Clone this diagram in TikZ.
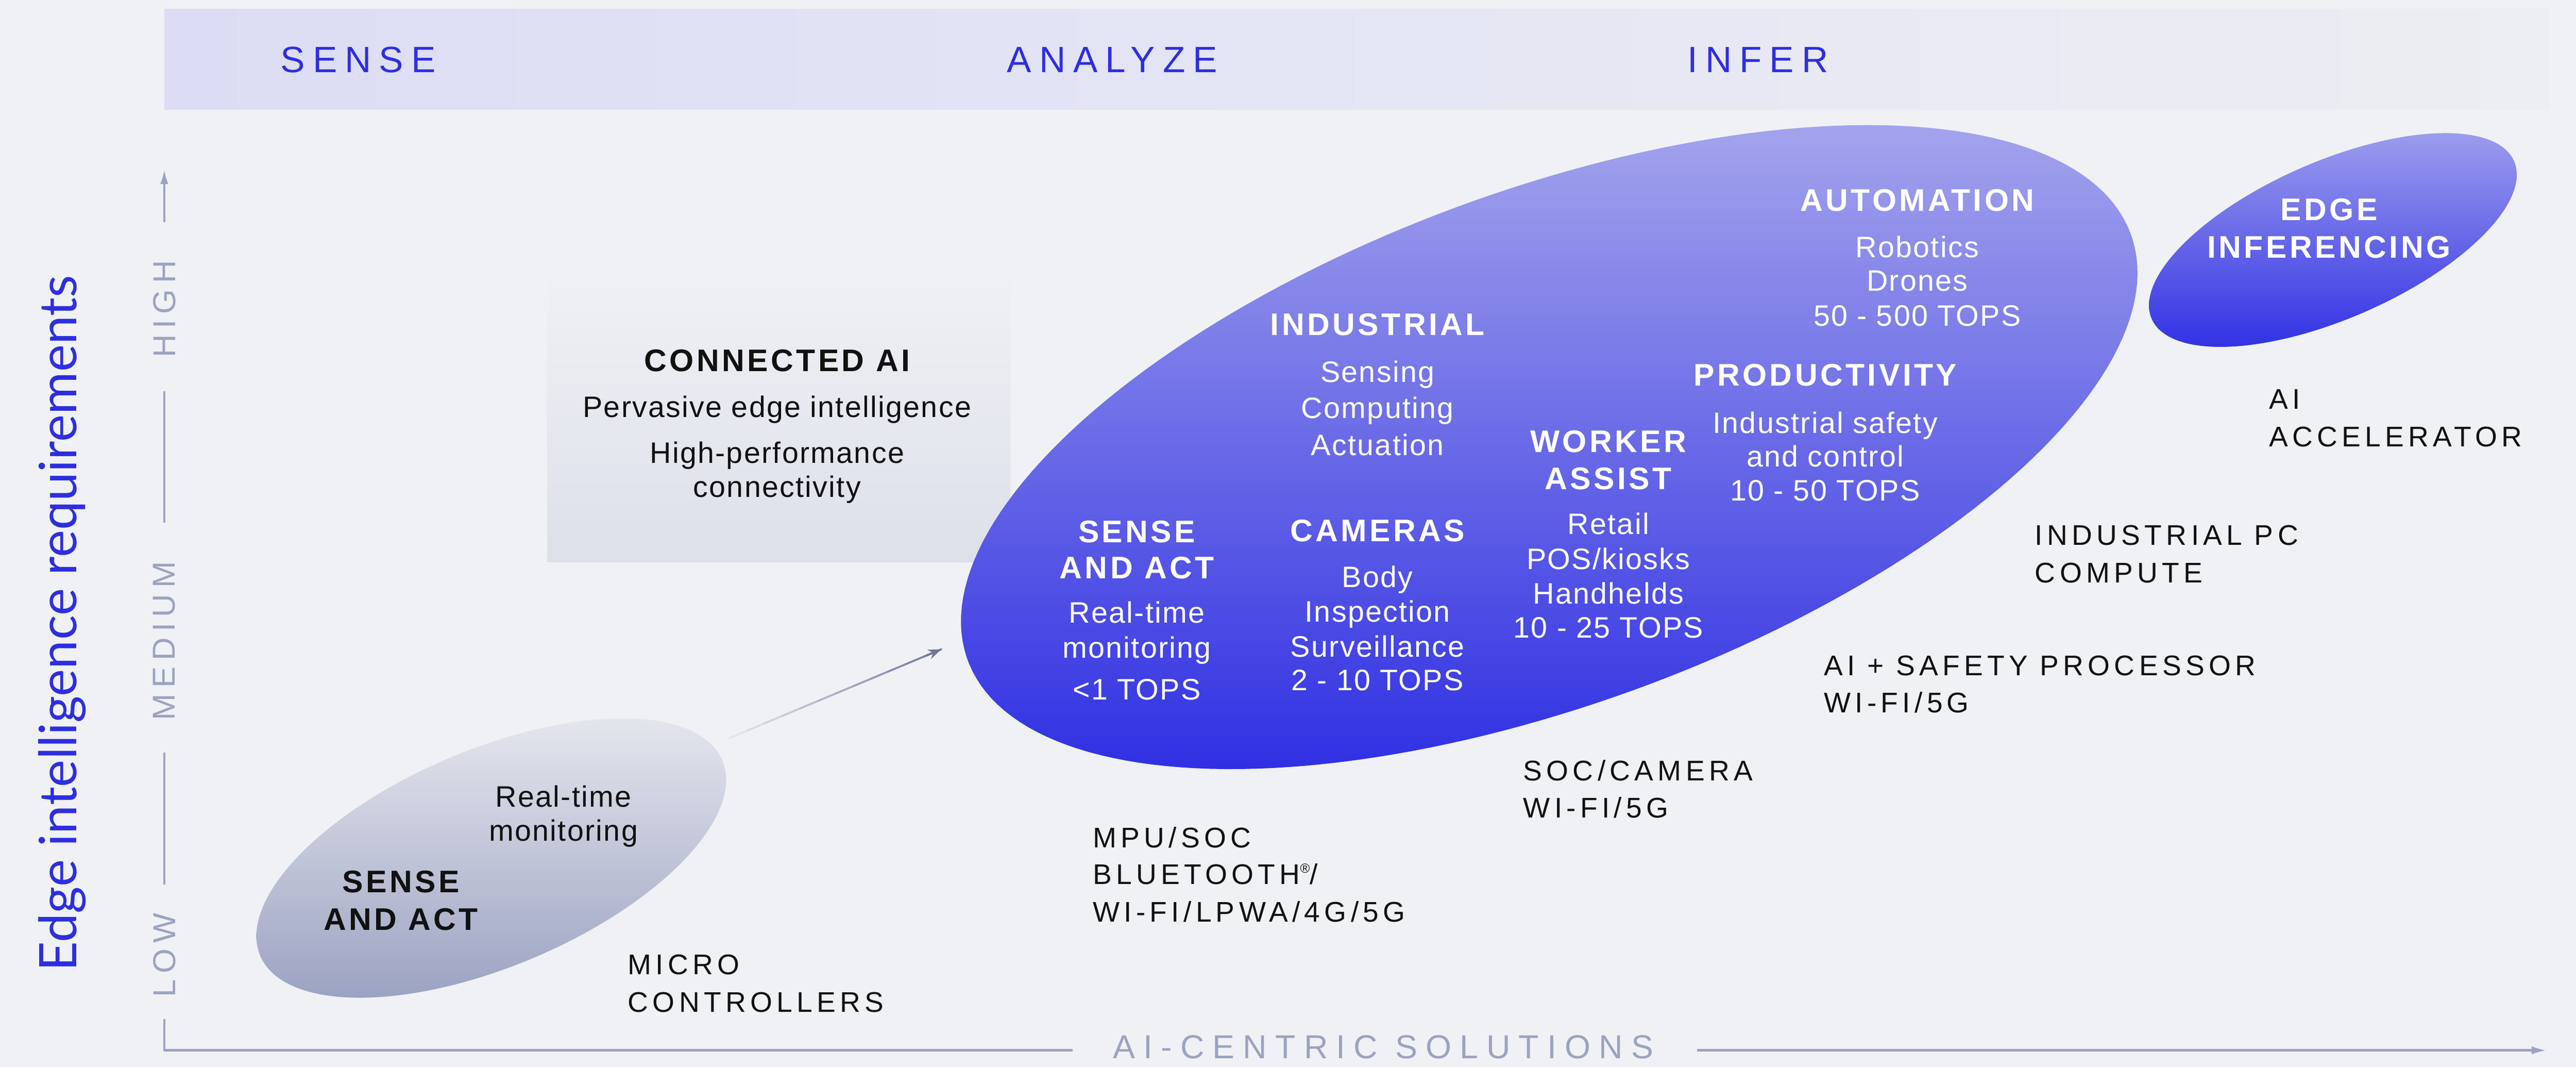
\documentclass[tikz,border=0pt]{standalone}
\usepackage{fontspec}
\setmainfont{Liberation Sans}
\newfontfamily\bodyf{Liberation Sans}[LetterSpace=4]
\newfontfamily\capf{Liberation Sans}[LetterSpace=15]
\newfontfamily\boldf{Liberation Sans}[LetterSpace=9]
\newfontfamily\hdrf{Liberation Sans}[LetterSpace=21]
\newfontfamily\axf{Liberation Sans}[LetterSpace=19]
\newfontfamily\xaxf{Liberation Sans}[LetterSpace=25]
\newfontfamily\edgef{Lato}
\usetikzlibrary{arrows.meta,calc}
\definecolor{bg}{HTML}{F0F1F5}
\definecolor{hdrL}{HTML}{DCDDF4}
\definecolor{hdrR}{HTML}{EDEEF3}
\definecolor{hblue}{HTML}{2E2EE0}
\definecolor{axisc}{HTML}{9BA3BF}
\definecolor{boxB}{HTML}{DCE0E9}
\definecolor{greyT}{HTML}{E4E6ED}
\definecolor{greyB}{HTML}{9CA3C2}
\definecolor{bigT}{HTML}{A3A3EC}
\definecolor{bigM}{HTML}{6262EB}
\definecolor{bigB}{HTML}{3030E3}
\definecolor{edgeT}{HTML}{9C9CEE}
\definecolor{edgeB}{HTML}{3232E4}
\definecolor{arrL}{HTML}{E8EAF0}
\definecolor{arrD}{HTML}{6E7898}
\definecolor{ink}{HTML}{111111}
\tikzset{
  body/.style={font=\bodyf\fontsize{18}{22}\selectfont, inner sep=0pt, anchor=base},
  boldl/.style={font=\boldf\bfseries\fontsize{19}{22}\selectfont, inner sep=0pt, anchor=base},
  capsl/.style={font=\capf\fontsize{17.3}{22}\selectfont, inner sep=0pt, text=ink, anchor=base west},
  hdr/.style={font=\hdrf\fontsize{22.3}{26}\selectfont, text=hblue, inner sep=0pt, anchor=base},
  axl/.style={font=\axf\fontsize{19.3}{22}\selectfont, text=axisc, inner sep=0pt, rotate=90},
  axisline/.style={draw=axisc, line width=1.4pt},
  wt/.style={text=white},
  bk/.style={text=ink}
}
\begin{document}
\begin{tikzpicture}[x=1pt,y=-1pt]
\fill[bg] (0,0) rectangle (1568,649);
\useasboundingbox (0,0) rectangle (1568,649);

% header band
\shade[left color=hdrL, right color=hdrR] (100,5.6) rectangle (1552,66.5);
\node[hdr] (hSense) at (218,44) {SENSE};
\node[hdr] (hAnalyze) at (677,44) {ANALYZE};
\node[hdr] (hInfer) at (1070,44) {INFER};

% y axis
\node[font=\edgef\fontsize{31.5}{31.5}\selectfont, text=hblue, rotate=90, anchor=base, inner sep=0pt] (ylab) at (46.5,379.3) {Edge intelligence requirements};
\coordinate (yTip) at (100,103);
\coordinate (yA) at (100,135);
\draw[axisline, -{Latex[length=9pt,width=5pt]}] (yA) -- (yTip);
\node[axl] (lHigh) at (100,188) {HIGH};
\draw[axisline] (100,238) -- (100,318);
\node[axl] (lMed) at (100,390) {MEDIUM};
\draw[axisline] (100,458) -- (100,538);
\node[axl] (lLow) at (100,581) {LOW};
\draw[axisline] (100,620) -- (100,639) -- (653,639);
\node[font=\xaxf\fontsize{20.2}{22}\selectfont, text=axisc, inner sep=0pt, anchor=base] (xlab) at (842,644) {AI-CENTRIC SOLUTIONS};
\coordinate (xA) at (1033,639);
\coordinate (xTip) at (1550,639);
\draw[axisline, -{Latex[length=9pt,width=5pt]}] (xA) -- (xTip);

% connected AI box
\shade[top color=bg, bottom color=boxB] (333,163) rectangle (615,342);
\node[boldl, bk] (cai) at (473,226) {CONNECTED AI};
\node[body, bk] (cai1) at (473,254) {Pervasive edge intelligence};
\node[body, bk] (cai2) at (473,281.7) {High-performance};
\node[body, bk] (cai3) at (473,302.5) {connectivity};

% small grey ellipse
\shade[top color=greyT, bottom color=greyB]
  plot[variable=\t, domain=0:360, samples=160]
  ({299+152.7*cos(\t)*cos(22.9)+66*sin(\t)*sin(22.9)},
   {522-152.7*cos(\t)*sin(22.9)+66*sin(\t)*cos(22.9)}) -- cycle;
\node[body, bk] (sm1) at (343,491) {Real-time};
\node[body, bk] (sm2) at (343,511.6) {monitoring};
\node[boldl, bk] (sm3) at (244,543) {SENSE};
\node[boldl, bk] (sm4) at (244,566) {AND ACT};

% big ellipse
\shade[top color=bigT, middle color=bigM, bottom color=bigB]
  plot[variable=\t, domain=0:360, samples=200]
  ({943+377*cos(\t)*cos(20.1)+156.5*sin(\t)*sin(20.1)},
   {272-377*cos(\t)*sin(20.1)+156.5*sin(\t)*cos(20.1)}) -- cycle;

% edge inferencing ellipse
\shade[top color=edgeT, bottom color=edgeB]
  plot[variable=\t, domain=0:360, samples=160]
  ({1420+120.3*cos(\t)*cos(23.5)+47.9*sin(\t)*sin(23.5)},
   {146-120.3*cos(\t)*sin(23.5)+47.9*sin(\t)*cos(23.5)}) -- cycle;

% arrow from small to big ellipse
\coordinate (arrS) at (444,449);
\coordinate (arrE) at (573,395);
\foreach \i in {0,...,11}{
  \pgfmathsetmacro\pa{\i/12}
  \pgfmathsetmacro\pb{(\i+1)/12}
  \pgfmathsetmacro\pc{100*(\i+0.5)/12}
  \draw[line width=1.2pt, line cap=round, draw=arrD!\pc!arrL] ($(arrS)!\pa!(arrE)$) -- ($(arrS)!\pb!(arrE)$);
}
\draw[line width=1.2pt, draw=arrD, -{Stealth[length=8pt,width=6pt,inset=2.5pt]}] ($(arrS)!0.93!(arrE)$) -- (arrE);

% texts in big ellipse
\node[boldl, wt] (b1a) at (692,330) {SENSE};
\node[boldl, wt] (b1b) at (692,352) {AND ACT};
\node[body, wt] (b1c) at (692,379) {Real-time};
\node[body, wt] (b1d) at (692,400.4) {monitoring};
\node[body, wt] (b1e) at (692,425.6) {<1 TOPS};

\node[boldl, wt] (b2a) at (838.5,204) {INDUSTRIAL};
\node[body, wt] (b2b) at (838.5,232.4) {Sensing};
\node[body, wt] (b2c) at (838.5,254.6) {Computing};
\node[body, wt] (b2d) at (838.5,277) {Actuation};

\node[boldl, wt] (b3a) at (838.5,329.3) {CAMERAS};
\node[body, wt] (b3b) at (838.5,357.4) {Body};
\node[body, wt] (b3c) at (838.5,378.5) {Inspection};
\node[body, wt] (b3d) at (838.5,399.6) {Surveillance};
\node[body, wt] (b3e) at (838.5,420) {2 - 10 TOPS};

\node[boldl, wt] (b4a) at (979,275.2) {WORKER};
\node[boldl, wt] (b4b) at (979,297.7) {ASSIST};
\node[body, wt] (b4c) at (979,325) {Retail};
\node[body, wt] (b4d) at (979,346.5) {POS/kiosks};
\node[body, wt] (b4e) at (979,367.5) {Handhelds};
\node[body, wt] (b4f) at (979,388) {10 - 25 TOPS};

\node[boldl, wt] (b5a) at (1111,234.7) {PRODUCTIVITY};
\node[body, wt] (b5b) at (1111,263.5) {Industrial safety};
\node[body, wt] (b5c) at (1111,284) {and control};
\node[body, wt] (b5d) at (1111,304.5) {10 - 50 TOPS};

\node[boldl, wt] (b6a) at (1167,128.3) {AUTOMATION};
\node[body, wt] (b6b) at (1167,156.5) {Robotics};
\node[body, wt] (b6c) at (1167,177) {Drones};
\node[body, wt] (b6d) at (1167,198.5) {50 - 500 TOPS};

\node[boldl, wt] (e1) at (1417.6,134) {EDGE};
\node[boldl, wt] (e2) at (1417.6,157) {INFERENCING};

% hardware labels
\node[capsl] (h1a) at (1381,248.9) {AI};
\node[capsl] (h1b) at (1381,271.7) {ACCELERATOR};
\node[capsl] (h2a) at (1238.5,331.6) {INDUSTRIAL PC};
\node[capsl] (h2b) at (1238.5,354.4) {COMPUTE};
\node[capsl] (h3a) at (1110,411) {AI + SAFETY PROCESSOR};
\node[capsl] (h3b) at (1110,433.6) {WI-FI/5G};
\node[capsl] (h4a) at (927,474.8) {SOC/CAMERA};
\node[capsl] (h4b) at (927,497.6) {WI-FI/5G};
\node[capsl] (h5a) at (665,515.6) {MPU/SOC};
\node[capsl] (h5b) at (665,538) {BLUETOOTH\raisebox{0.75ex}{\fontsize{8}{8}\selectfont ®}/};
\node[capsl] (h5c) at (665,561) {WI-FI/LPWA/4G/5G};
\node[capsl] (h6a) at (382,592.8) {MICRO};
\node[capsl] (h6b) at (382,615.6) {CONTROLLERS};
\end{tikzpicture}
\end{document}
